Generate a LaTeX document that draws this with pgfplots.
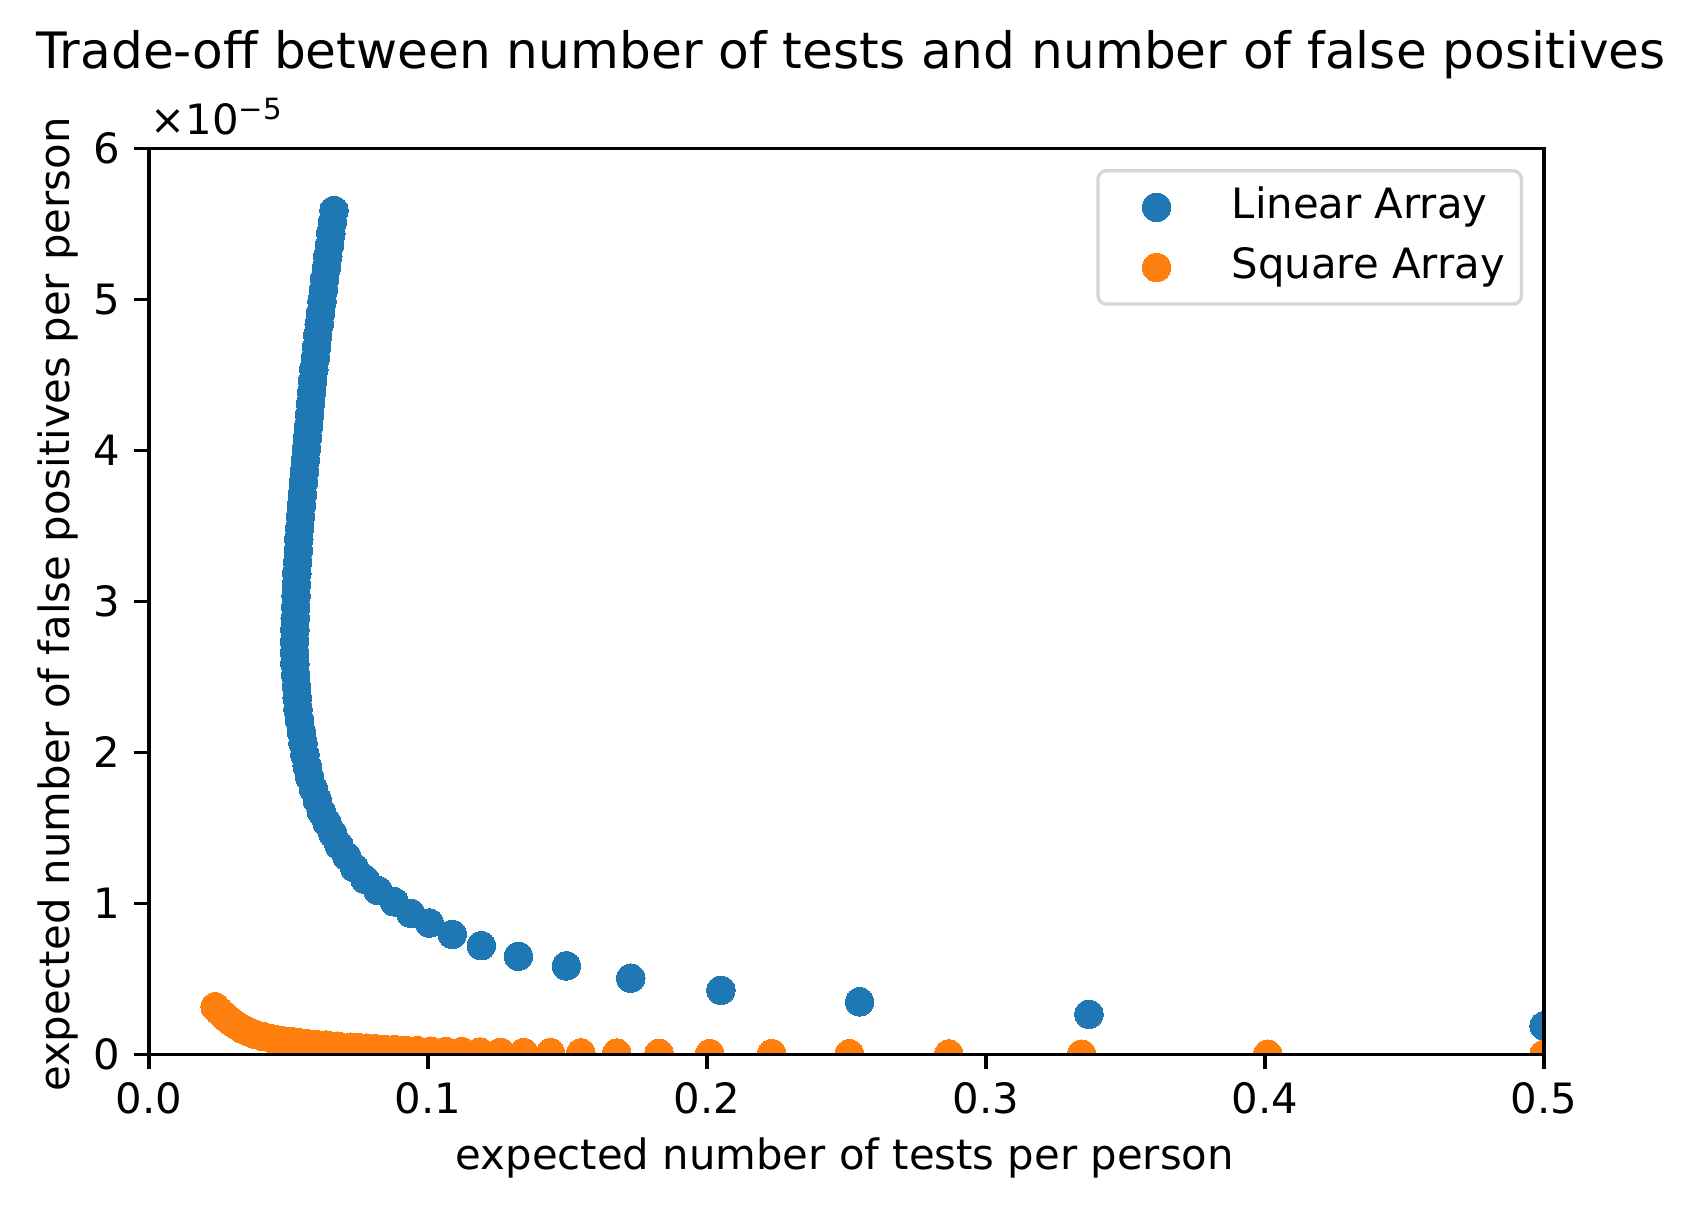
\documentclass[border=0pt]{standalone}
\usepackage{fontspec}
\setmainfont{DejaVu Sans}
\usepackage{pgfplots}
\pgfplotsset{compat=1.18}
\definecolor{tabblue}{HTML}{1F77B4}
\definecolor{taborange}{HTML}{FF7F0E}
\definecolor{legendgray}{gray}{0.84}
\pgfplotsset{scatterlegend/.style={legend image code/.code={\path[draw=none,fill=none] (0pt,-3pt) rectangle (20pt,3pt);
    \draw[##1] plot coordinates {(10pt,0pt)};}}}

\begin{document}
\begin{tikzpicture}
\begin{axis}[
  at={(0pt,0pt)}, anchor=south west,
  scale only axis, width=333.8pt, height=216.85pt,
  xmin=0, xmax=0.5, ymin=0, ymax=6,
  xtick={0,0.1,0.2,0.3,0.4,0.5},
  xticklabels={0.0,0.1,0.2,0.3,0.4,0.5},
  ytick={0,1,2,3,4,5,6},
  yticklabels={0,1,2,3,4,5,6},
  tick align=outside, major tick length=3.5pt,
  xtick pos=bottom, ytick pos=left,
  axis line style={line width=0.8pt},
  every tick/.style={black, line width=0.8pt},
  tick label style={font=\fontsize{10}{12}\selectfont, inner sep=0pt},
  xticklabel style={anchor=base, yshift=-10.7pt},
  yticklabel style={anchor=east, xshift=-3.3pt},
  axis on top,
  clip marker paths=true,
  legend cell align=left,
  legend style={at={(1,1)}, anchor=north east, xshift=-5pt, yshift=-5pt,
    draw=legendgray, line width=0.8pt, rounded corners=2pt,
    inner xsep=4pt, inner ysep=4.5pt, row sep=5.9pt, column sep=8pt,
    font=\fontsize{10}{12}\selectfont,
    nodes={inner sep=0pt, text height=7pt, text depth=1.5pt}},
]
\addplot[only marks, mark=*, color=tabblue, mark size=3.4pt,
  mark options={line width=0pt}, scatterlegend]
coordinates {
(0.5,0.189) (0.3369,0.266) (0.2547,0.348) (0.2050,0.425) (0.1727,0.505)
(0.1496,0.586) (0.1324,0.650) (0.1191,0.720) (0.1087,0.795) (0.1005,0.870)
(0.0938,0.935) (0.0879,1.010) (0.0821,1.085) (0.0774,1.160) (0.0737,1.235)
(0.0709,1.310) (0.0681,1.385) (0.0659,1.460) (0.0638,1.535) (0.0617,1.610)
(0.0603,1.685) (0.0589,1.760) (0.0576,1.835) (0.0567,1.910) (0.0559,1.985)
(0.0552,2.060) (0.0546,2.135) (0.0540,2.210) (0.0534,2.285) (0.0531,2.360)
(0.0529,2.435) (0.0526,2.510) (0.0523,2.585) (0.0522,2.660) (0.0522,2.735)
(0.0523,2.810) (0.0524,2.885) (0.0526,2.960) (0.0527,3.035) (0.0528,3.110)
(0.0530,3.185) (0.0533,3.260) (0.0535,3.335) (0.0537,3.410) (0.0540,3.485)
(0.0543,3.560) (0.0546,3.635) (0.0550,3.710) (0.0553,3.785) (0.0557,3.860)
(0.0560,3.935) (0.0564,4.010) (0.0568,4.085) (0.0572,4.160) (0.0576,4.235)
(0.0579,4.310) (0.0583,4.385) (0.0587,4.460) (0.0591,4.535) (0.0596,4.610)
(0.0601,4.685) (0.0605,4.760) (0.0610,4.835) (0.0615,4.910) (0.0620,4.985)
(0.0625,5.060) (0.0630,5.135) (0.0636,5.210) (0.0641,5.285) (0.0647,5.360)
(0.0652,5.435) (0.0657,5.510) (0.0663,5.588)
};
\addlegendentry{Linear Array}
\addplot[only marks, mark=*, color=taborange, mark size=3.4pt,
  mark options={line width=0pt}, scatterlegend]
coordinates {
(0.5,0.001) (0.401,0.002) (0.3343,0.002) (0.2867,0.003) (0.251,0.004)
(0.2232,0.005) (0.201,0.006) (0.1828,0.008) (0.1677,0.009) (0.1548,0.010)
(0.1439,0.011) (0.1343,0.013) (0.126,0.014) (0.1186,0.016) (0.1121,0.018)
(0.1063,0.020) (0.101,0.022) (0.0962,0.025) (0.0919,0.028) (0.088,0.031)
(0.0843,0.034) (0.081,0.038) (0.0779,0.042) (0.0751,0.045) (0.0724,0.048)
(0.0677,0.055) (0.0635,0.062) (0.0598,0.067) (0.0566,0.072) (0.0536,0.078)
(0.051,0.083) (0.0475,0.092) (0.0445,0.102) (0.041,0.117) (0.038,0.133)
(0.0355,0.152) (0.0333,0.170) (0.0314,0.192) (0.0296,0.215) (0.0281,0.238)
(0.0266,0.262) (0.0251,0.288) (0.0237,0.315)
};
\addlegendentry{Square Array}
\end{axis}
\node[anchor=base, inner sep=0pt, font=\fontsize{12}{14}\selectfont] at (168.0pt,236.0pt)
  {Trade-off between number of tests and number of false positives};
\node[anchor=base west, inner sep=0pt, font=\fontsize{10}{12}\selectfont] at (0.2pt,220.0pt)
  {×10\raisebox{3.6pt}{\fontsize{7}{8}\selectfont −5}};
\node[anchor=base, inner sep=0pt, font=\fontsize{10}{12}\selectfont] at (166.5pt,-27.6pt)
  {expected number of tests per person};
\node[rotate=90, anchor=base, inner sep=0pt, font=\fontsize{10}{12}\selectfont] at (-19.1pt,107.6pt)
  {expected number of false positives per person};
\pgfresetboundingbox
\path[use as bounding box] (-35.65pt,-37.2pt) rectangle (369.2pt,252.3pt);
\end{tikzpicture}
\end{document}
